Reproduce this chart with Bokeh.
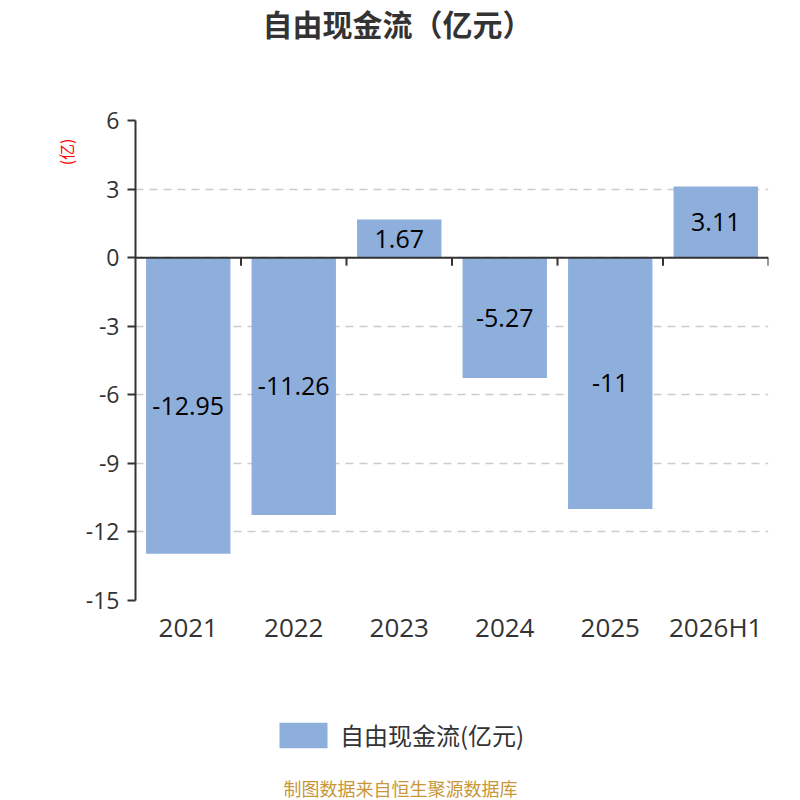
from bokeh.plotting import figure
from bokeh.layouts import column
from bokeh.models import (ColumnDataSource, Range1d, FactorRange, FixedTicker, Span,
                          Legend, LegendItem, Title, Label)
from bokeh.transform import dodge
from bokeh.core.properties import value
from bokeh.embed import file_html
from bokeh.resources import INLINE

categories = ["2021", "2022", "2023", "2024", "2025", "2026H1"]
values = [-12.95, -11.26, 1.67, -5.27, -11.0, 3.11]
value_labels = ["-12.95", "-11.26", "1.67", "-5.27", "-11", "3.11"]
y_ticks = [-15, -12, -9, -6, -3, 0, 3, 6]
y_tick_labels = ["-15", "-12", "-9", "-6", "-3", "0", "3", "6"]
series_name = "自由现金流(亿元)"
chart_title = "自由现金流（亿元）"
unit_label = "(亿)"
source_note = "制图数据来自恒生聚源数据库"

CJK = "Noto Sans CJK SC"
NUM = "Open Sans"
BAR = "#8eaedb"
TXT = "#333333"

src = ColumnDataSource(dict(
    cat=categories,
    val=values,
    mid=[v / 2 for v in values],
    lab=value_labels,
    zero=[0] * len(categories),
    tick=[-0.35] * len(categories),
))


def blank(h, x_range=None):
    f = figure(width=800, height=h, output_backend="svg", toolbar_location=None,
               x_range=x_range if x_range is not None else Range1d(0, 1),
               y_range=Range1d(0, 1),
               min_border=0, x_axis_type=None, y_axis_type=None)
    f.outline_line_color = None
    f.grid.visible = False
    return f


# ---- title strip (frame is aligned with the main chart's frame)
top = blank(105)
top.add_layout(Label(x=262, y=83, x_units="screen", y_units="screen", text=chart_title,
                     text_font=CJK, text_font_size="30px", text_font_style="bold",
                     text_color=TXT, text_align="center", text_baseline="middle"))

# ---- main chart
p = figure(width=800, height=545, output_backend="svg", toolbar_location=None,
           x_range=FactorRange(*categories, range_padding=0), y_range=Range1d(-15, 6),
           min_border_left=135, min_border_right=32, min_border_top=15, min_border_bottom=50)
p.outline_line_color = None
p.background_fill_color = "white"
p.border_fill_color = "white"

p.vbar(x="cat", top="val", bottom=0, width=0.8, source=src,
       fill_color=BAR, line_color=None)

p.text(x="cat", y="mid", text="lab", source=src, text_align="center",
       text_baseline="middle", text_font=value(NUM), text_font_size="25px",
       text_color="#000000")

p.add_layout(Span(location=0, dimension="width", line_color=TXT, line_width=2))
p.segment(x0=dodge("cat", 0.5, range=p.x_range), y0="zero",
          x1=dodge("cat", 0.5, range=p.x_range), y1="tick",
          source=src, line_color=TXT, line_width=2)

ya = p.yaxis[0]
ya.ticker = FixedTicker(ticks=y_ticks)
ya.major_label_overrides = {t: s for t, s in zip(y_ticks, y_tick_labels)}
ya.axis_line_color = TXT
ya.axis_line_width = 2
ya.major_tick_line_color = TXT
ya.major_tick_line_width = 2
ya.major_tick_out = 8
ya.major_tick_in = 0
ya.minor_tick_line_color = None
ya.major_label_text_font = NUM
ya.major_label_text_font_size = "23px"
ya.major_label_text_color = TXT
ya.major_label_standoff = 8

xa = p.xaxis[0]
xa.axis_line_color = None
xa.major_tick_line_color = None
xa.major_tick_out = 0
xa.major_tick_in = 0
xa.major_label_text_font = NUM
xa.major_label_text_font_size = "26px"
xa.major_label_text_color = TXT
xa.major_label_standoff = 8

p.xgrid.grid_line_color = None
p.ygrid.ticker = FixedTicker(ticks=y_ticks)
p.ygrid.grid_line_color = "#cccccc"
p.ygrid.grid_line_dash = "8 6"
p.ygrid.grid_line_width = 1.5

p.add_layout(Title(text=unit_label, align="right", offset=18, standoff=10,
                   text_font=CJK, text_font_size="16px", text_font_style="normal",
                   text_color="#ff0000"), "left")

# ---- legend + source strip
bot = blank(150, x_range=FactorRange(*categories, range_padding=0))
bot.y_range = Range1d(100, 101)
sw = bot.vbar(x="cat", top="val", bottom=0, width=0.8, source=src,
              fill_color=BAR, line_color=None)
sw.visible = False
legend = Legend(items=[LegendItem(label=series_name, renderers=[sw])],
                orientation="horizontal", location=(138, 48), click_policy="none",
                glyph_width=60, glyph_height=32, label_standoff=7, label_height=32,
                label_text_font=CJK, label_text_font_size="24px", label_text_color=TXT,
                border_line_color=None, background_fill_alpha=0, margin=0, padding=0)
bot.add_layout(legend, "center")
bot.add_layout(Label(x=265, y=13, x_units="screen", y_units="screen", text=source_note,
                     text_font=CJK, text_font_size="18px", text_color="#c9963a",
                     text_align="center", text_baseline="middle"))

layout = column(top, p, bot, spacing=0)
open("out.html", "w").write(file_html(layout, INLINE))
